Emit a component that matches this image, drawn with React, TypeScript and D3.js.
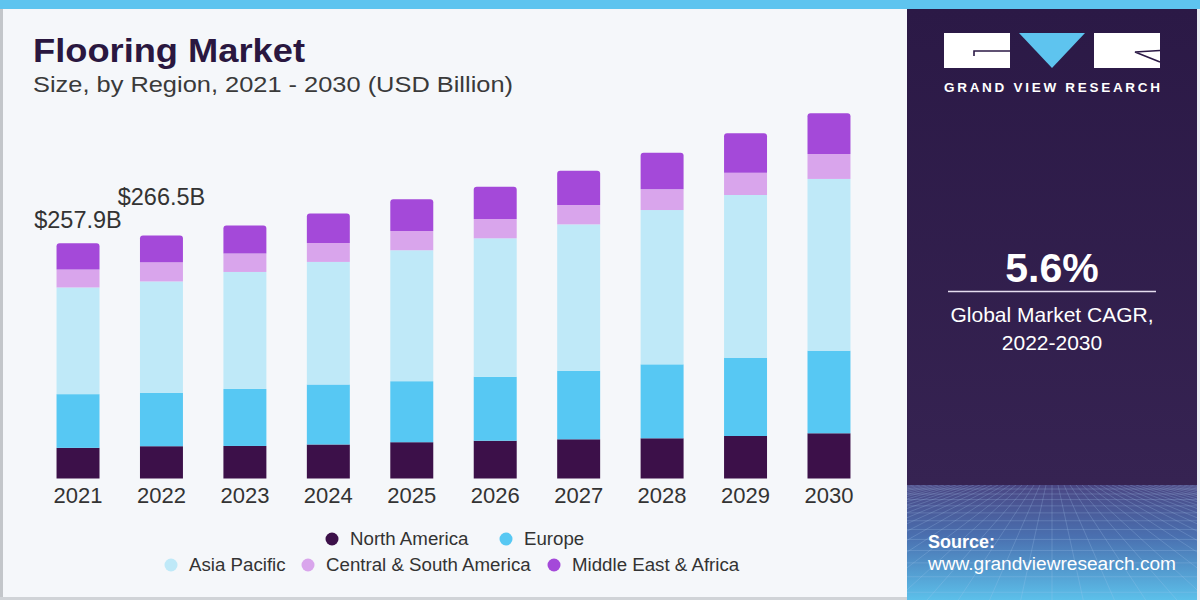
import React from "react";
import * as d3 from "d3";

const years = ["2021", "2022", "2023", "2024", "2025", "2026", "2027", "2028", "2029", "2030"];
const seriesNames = ["North America", "Europe", "Asia Pacific", "Central & South America", "Middle East & Africa"];
const northAmerica = [33.6, 35.4, 35.7, 37.3, 39.8, 41.4, 43.0, 44.1, 46.6, 49.6];
const europe = [58.9, 58.4, 62.5, 65.8, 66.9, 70.2, 75.2, 81.1, 85.9, 90.6];
const asiaPacific = [117.0, 122.3, 128.3, 134.4, 143.6, 151.8, 160.5, 169.2, 178.4, 188.3];
const centralSouthAmerica = [19.7, 21.1, 20.2, 20.8, 21.2, 21.2, 21.2, 22.7, 24.5, 27.4];
const middleEastAfrica = [28.7, 29.3, 30.7, 32.2, 34.8, 35.4, 37.6, 40.1, 43.2, 44.6];
const totalLabels = ["$257.9B", "$266.5B"];
const colors = ["#3c1049", "#57c8f3", "#bfe9f8", "#d9a5ec", "#a449d9"];

const W = 1200;
const H = 600;

function topRoundedRect(x: number, y: number, w: number, h: number, r: number) {
  const rr = Math.min(r, h / 2, w / 2);
  return `M${x},${y + h}V${y + rr}Q${x},${y} ${x + rr},${y}H${x + w - rr}Q${x + w},${y} ${x + w},${y + rr}V${y + h}Z`;
}

export default function App() {
  const allSeries = [northAmerica, europe, asiaPacific, centralSouthAmerica, middleEastAfrica];
  const rows = years.map((yr, i) => {
    const o: any = { year: yr };
    seriesNames.forEach((s, k) => (o[s] = allSeries[k][i]));
    return o;
  });
  const stack = d3.stack<any>().keys(seriesNames)(rows);

  const x = d3
    .scaleBand<string>()
    .domain(years)
    .range([36.3, 870.7])
    .paddingInner(0.485)
    .paddingOuter(0.2425)
    .align(0.5);
  const y = d3.scaleLinear().domain([0, 420]).range([478.5, 95.5]);

  const labelOffsets = [15, 30];

  const legendRows = [
    [
      { k: 0, cx: 332 },
      { k: 1, cx: 506 },
    ],
    [
      { k: 2, cx: 171 },
      { k: 3, cx: 308 },
      { k: 4, cx: 554 },
    ],
  ];
  const legendY = [539, 565];

  const gridTop = 485;
  const hLines: number[] = [];
  let gy = gridTop + 4;
  let step = 5;
  while (gy < H) {
    hLines.push(gy);
    gy += step;
    step *= 1.12;
  }
  const vLines: number[] = d3.range(-30, 31).map((i) => i);

  return (
    <svg
      width={W}
      height={H}
      viewBox={`0 0 ${W} ${H}`}
      style={{ position: "absolute", left: 0, top: 0, display: "block" }}
      fontFamily="'Liberation Sans', Arial, sans-serif"
    >
      <defs>
        <linearGradient id="panelGrad" x1="0" y1="0" x2="0" y2="1">
          <stop offset="0%" stopColor="#2b1946" />
          <stop offset="100%" stopColor="#362352" />
        </linearGradient>
        <linearGradient id="gridGrad" x1="0" y1="0" x2="0" y2="1">
          <stop offset="0%" stopColor="#4a4683" />
          <stop offset="45%" stopColor="#4a70b0" />
          <stop offset="100%" stopColor="#5cc0ea" />
        </linearGradient>
        <clipPath id="gridClip">
          <rect x={907} y={gridTop} width={290} height={H - gridTop} />
        </clipPath>
      </defs>

      <rect x={0} y={0} width={W} height={H} fill="#e9edf2" />
      <rect x={3} y={9} width={904} height={588} fill="#f5f7fa" />
      <rect x={0} y={9} width={3} height={591} fill="#c3c6ca" />
      <rect x={0} y={597} width={907} height={3} fill="#d0d3d7" />
      <rect x={0} y={0} width={W} height={9} fill="#5ec4ef" />

      <rect x={907} y={9} width={290} height={gridTop - 9} fill="url(#panelGrad)" />
      <rect x={907} y={gridTop} width={290} height={H - gridTop} fill="url(#gridGrad)" />
      <g clipPath="url(#gridClip)" stroke="#a9c8f0" strokeOpacity={0.3} strokeWidth={0.8}>
        {hLines.map((v, i) => (
          <line key={"h" + i} x1={907} x2={1197} y1={v} y2={v} />
        ))}
        {vLines.map((i) => (
          <line key={"v" + i} x1={1052 + i * 6} y1={gridTop} x2={1052 + i * 40} y2={H + 40} />
        ))}
      </g>

      <rect x={944} y={33} width={66} height={35} fill="#ffffff" />
      <path d="M974,56V51H1010" fill="none" stroke="#2b1946" strokeWidth={1.6} />
      <polygon points="1019,33 1085,33 1052,68" fill="#5ec4ef" />
      <rect x={1094} y={33} width={66} height={35} fill="#ffffff" />
      <path d="M1160,50.5L1135,52L1160,62" fill="none" stroke="#2b1946" strokeWidth={1.6} />
      <text x={944} y={91.5} fill="#ffffff" fontSize={13.5} fontWeight="bold" textLength={216} lengthAdjust="spacing">
        GRAND VIEW RESEARCH
      </text>

      <text x={1052} y={282} fill="#ffffff" fontSize={41} fontWeight="bold" textAnchor="middle">
        5.6%
      </text>
      <line x1={948} x2={1156} y1={291.5} y2={291.5} stroke="#e6ddf0" strokeWidth={1.5} />
      <text x={1052} y={322} fill="#ffffff" fontSize={21} textAnchor="middle">
        Global Market CAGR,
      </text>
      <text x={1052} y={350} fill="#ffffff" fontSize={21} textAnchor="middle">
        2022-2030
      </text>

      <text x={928} y={548} fill="#ffffff" fontSize={18} fontWeight="bold">
        Source:
      </text>
      <text x={928} y={570} fill="#ffffff" fontSize={18} textLength={248} lengthAdjust="spacingAndGlyphs">
        www.grandviewresearch.com
      </text>

      <text x={33} y={62} fill="#2a1740" fontSize={33} fontWeight="bold" textLength={272} lengthAdjust="spacingAndGlyphs">
        Flooring Market
      </text>
      <text x={33} y={92} fill="#3a3a3a" fontSize={22} textLength={480} lengthAdjust="spacingAndGlyphs">
        Size, by Region, 2021 - 2030 (USD Billion)
      </text>

      {stack.map((layer, k) => (
        <g key={seriesNames[k]} fill={colors[k]}>
          {layer.map((d, i) => {
            const x0 = x(years[i]) as number;
            const y0 = y(d[1]);
            const h = y(d[0]) - y(d[1]);
            if (k === stack.length - 1) {
              return <path key={i} d={topRoundedRect(x0, y0, x.bandwidth(), h, 3)} />;
            }
            return <rect key={i} x={x0} y={y0} width={x.bandwidth()} height={h} />;
          })}
        </g>
      ))}

      {totalLabels.map((lab, i) => {
        const top = stack[stack.length - 1][i][1];
        return (
          <text
            key={lab}
            x={(x(years[i]) as number) + x.bandwidth() / 2}
            y={y(top) - labelOffsets[i]}
            fill="#333333"
            fontSize={23.5}
            textAnchor="middle"
          >
            {lab}
          </text>
        );
      })}

      {years.map((yr) => (
        <text key={yr} x={(x(yr) as number) + x.bandwidth() / 2} y={503} fill="#333333" fontSize={22} textAnchor="middle">
          {yr}
        </text>
      ))}

      {legendRows.map((row, r) =>
        row.map((it) => (
          <g key={it.k}>
            <circle cx={it.cx} cy={legendY[r]} r={6.5} fill={colors[it.k]} />
            <text x={it.cx + 18} y={legendY[r] + 6} fill="#333333" fontSize={18.7}>
              {seriesNames[it.k]}
            </text>
          </g>
        ))
      )}
    </svg>
  );
}
